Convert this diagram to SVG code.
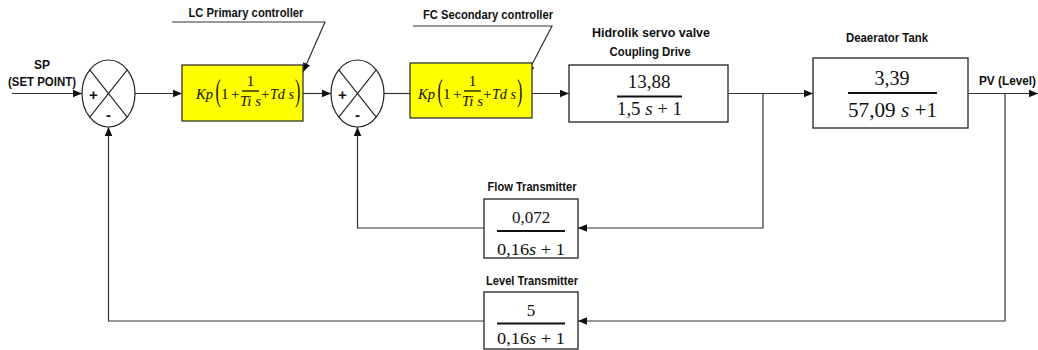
<svg xmlns="http://www.w3.org/2000/svg" width="1038" height="350" viewBox="0 0 1038 350">
<style>
.lbl{font-family:"Liberation Sans",Arial,sans-serif;font-weight:bold;font-size:12.5px;fill:#111}
.m{font-family:"Liberation Serif","Times New Roman",serif;fill:#111}
.i{font-style:italic}
.box{fill:#fff;stroke:#222;stroke-width:1.3}
.ybox{fill:#ffff00;stroke:#333;stroke-width:1.3}
.sum{fill:#fff;stroke:#222;stroke-width:1.2}
.x{stroke:#222;stroke-width:1.1;fill:none}
.bar{stroke:#111;stroke-width:2}
.thin{stroke:#111;stroke-width:1.3}
.sign{font-family:"Liberation Sans",Arial,sans-serif;font-weight:bold;font-size:15px;fill:#111;text-anchor:middle}
.c{fill:none;stroke:#333;stroke-width:1.2}
</style>
<defs>
<marker id="ah" markerUnits="userSpaceOnUse" markerWidth="10" markerHeight="10" viewBox="0 0 10 10" refX="9" refY="5" orient="auto">
<path d="M0,1.2 L9,5 L0,8.8 Z" fill="#111"/>
</marker>
</defs>

<g id="connectors">
<path class="c" d="M12,93.5 H82" marker-end="url(#ah)"/>
<path class="c" d="M135,93.5 H182" marker-end="url(#ah)"/>
<path class="c" d="M303,93.5 H331" marker-end="url(#ah)"/>
<path class="c" d="M384,93.5 H410"/>
<path class="c" d="M532,93.5 H569" marker-end="url(#ah)"/>
<path class="c" d="M728,93.5 H813" marker-end="url(#ah)"/>
<path class="c" d="M968,93.5 H1038" marker-end="url(#ah)"/>
<path class="c" d="M763,93.5 V228 H578" marker-end="url(#ah)"/>
<path class="c" d="M484,228 H357.5 V127" marker-end="url(#ah)"/>
<path class="c" d="M1005,93.5 V321 H578" marker-end="url(#ah)"/>
<path class="c" d="M484,321 H108.5 V127" marker-end="url(#ah)"/>
<path class="c" d="M172,22 H325 L303,72" marker-end="url(#ah)"/>
<path class="c" d="M413,26 H552 L527,74" marker-end="url(#ah)"/>
</g>

<g id="sp">
<text class="lbl" x="42" y="69" text-anchor="middle" textLength="16" lengthAdjust="spacingAndGlyphs">SP</text>
<text class="lbl" x="42" y="86" text-anchor="middle" textLength="68" lengthAdjust="spacingAndGlyphs">(SET POINT)</text>
</g>

<g id="sum1">
<ellipse class="sum" cx="108.5" cy="93.5" rx="26.5" ry="33.5"/>
<path class="x" d="M89.8,69.8 L127.2,117.2 M127.2,69.8 L89.8,117.2"/>
<text class="sign" x="93.5" y="100">+</text>
<text class="sign" x="108.5" y="119.5">-</text>
</g>

<g id="lc">
<text class="lbl" x="246" y="17" text-anchor="middle" textLength="115" lengthAdjust="spacingAndGlyphs">LC Primary controller</text>
<rect class="ybox" x="182" y="65" width="121" height="56"/>
<g class="m">
<text class="i" x="196" y="99" font-size="15" textLength="17" lengthAdjust="spacingAndGlyphs">Kp</text>
<text x="0" y="101" font-size="32" transform="translate(215.5,0) scale(0.5,1)">(</text>
<text x="221" y="99" font-size="15">1</text>
<text x="231" y="99" font-size="15">+</text>
<text x="250.5" y="86" font-size="15" text-anchor="middle">1</text>
<line class="thin" x1="242" y1="91" x2="259" y2="91"/>
<text class="i" x="250.5" y="106" font-size="15" text-anchor="middle">Ti s</text>
<text x="261" y="99" font-size="15">+</text>
<text class="i" x="270" y="99" font-size="15" textLength="24" lengthAdjust="spacingAndGlyphs">Td s</text>
<text x="0" y="101" font-size="32" transform="translate(295,0) scale(0.5,1)">)</text>
</g>
</g>

<g id="sum2">
<ellipse class="sum" cx="357.5" cy="93.5" rx="26.5" ry="33.5"/>
<path class="x" d="M338.8,69.8 L376.2,117.2 M376.2,69.8 L338.8,117.2"/>
<text class="sign" x="342.5" y="100">+</text>
<text class="sign" x="357.5" y="119.5">-</text>
</g>

<g id="fc">
<text class="lbl" x="488" y="19" text-anchor="middle" textLength="130" lengthAdjust="spacingAndGlyphs">FC Secondary controller</text>
<rect class="ybox" x="410" y="63" width="122" height="55"/>
<g class="m" transform="translate(222,0)">
<text class="i" x="196" y="99" font-size="15" textLength="17" lengthAdjust="spacingAndGlyphs">Kp</text>
<text x="0" y="101" font-size="32" transform="translate(215.5,0) scale(0.5,1)">(</text>
<text x="221" y="99" font-size="15">1</text>
<text x="231" y="99" font-size="15">+</text>
<text x="250.5" y="86" font-size="15" text-anchor="middle">1</text>
<line class="thin" x1="242" y1="91" x2="259" y2="91"/>
<text class="i" x="250.5" y="106" font-size="15" text-anchor="middle">Ti s</text>
<text x="261" y="99" font-size="15">+</text>
<text class="i" x="270" y="99" font-size="15" textLength="24" lengthAdjust="spacingAndGlyphs">Td s</text>
<text x="0" y="101" font-size="32" transform="translate(295,0) scale(0.5,1)">)</text>
</g>
</g>

<g id="valve">
<text class="lbl" x="651" y="37" text-anchor="middle" textLength="118" lengthAdjust="spacingAndGlyphs">Hidrolik servo valve</text>
<text class="lbl" x="650" y="56" text-anchor="middle" textLength="81" lengthAdjust="spacingAndGlyphs">Coupling Drive</text>
<rect class="box" x="569" y="65" width="159" height="57"/>
<text class="m" x="649" y="88" font-size="19" text-anchor="middle">13,88</text>
<line class="bar" x1="617" y1="96.5" x2="682" y2="96.5"/>
<text class="m" x="649.5" y="115" font-size="19" text-anchor="middle" textLength="65" lengthAdjust="spacingAndGlyphs">1,5 <tspan class="i">s</tspan> + 1</text>
</g>

<g id="tank">
<text class="lbl" x="887" y="42" text-anchor="middle" textLength="82" lengthAdjust="spacingAndGlyphs">Deaerator Tank</text>
<rect class="box" x="813" y="58" width="155" height="70"/>
<text class="m" x="892" y="85" font-size="20" text-anchor="middle">3,39</text>
<line class="bar" x1="848" y1="93" x2="937" y2="93"/>
<text class="m" x="892.5" y="117" font-size="21" text-anchor="middle" textLength="89" lengthAdjust="spacingAndGlyphs">57,09 <tspan class="i">s</tspan>  +1</text>
</g>

<g id="pv">
<text class="lbl" x="979" y="85" textLength="57" lengthAdjust="spacingAndGlyphs">PV (Level)</text>
</g>

<g id="flow">
<text class="lbl" x="532" y="191" text-anchor="middle" textLength="89" lengthAdjust="spacingAndGlyphs">Flow Transmitter</text>
<rect class="box" x="484" y="199" width="94" height="59"/>
<text class="m" x="531" y="223" font-size="17" text-anchor="middle">0,072</text>
<line class="bar" x1="497" y1="231" x2="565" y2="231"/>
<text class="m" x="531" y="255" font-size="17" text-anchor="middle" textLength="68" lengthAdjust="spacingAndGlyphs">0,16<tspan class="i">s</tspan> + 1</text>
</g>

<g id="level">
<text class="lbl" x="532" y="285" text-anchor="middle" textLength="92" lengthAdjust="spacingAndGlyphs">Level Transmitter</text>
<rect class="box" x="484" y="292" width="94" height="57"/>
<text class="m" x="531" y="316" font-size="17" text-anchor="middle">5</text>
<line class="bar" x1="497" y1="323.5" x2="565" y2="323.5"/>
<text class="m" x="531" y="344" font-size="17" text-anchor="middle" textLength="68" lengthAdjust="spacingAndGlyphs">0,16<tspan class="i">s</tspan> + 1</text>
</g>
</svg>
